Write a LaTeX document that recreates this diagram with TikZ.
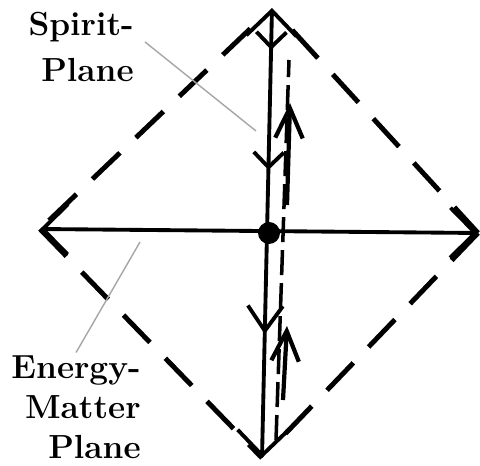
\documentclass[tikz,border=0pt]{standalone}
\usetikzlibrary{arrows.meta,decorations.markings}

\tikzset{
  bigbarb/.tip={Straight Barb[length=5mm,width=10mm]},
  upbarb/.tip={Straight Barb[length=6mm,width=5.5mm]},
  midbarb/.tip={Straight Barb[length=3mm,width=6mm]},
  axisline/.style={line width=2.2pt, bigbarb-bigbarb},
  rimdash/.style={line width=2.8pt, dash pattern=on 7.6mm off 4.4mm},
  flowdash/.style={line width=2pt, dash pattern=on 5mm off 1.6mm},
  upshaft/.style={line width=2.4pt, -upbarb},
  leader/.style={gray!70, line width=0.8pt},
  lbl/.style={font=\bfseries\fontsize{19}{23}\selectfont, align=right, inner sep=0pt, anchor=north east}
}

\begin{document}
\begin{tikzpicture}[x=0.2mm,y=-0.2mm]
\useasboundingbox (0,0) rectangle (480,466);
% corners of the diamond
\coordinate (T) at (272,8);
\coordinate (B) at (262,458);
\coordinate (L) at (40,229);
\coordinate (R) at (478,233);
\coordinate (O) at (269,233);
% dashed rim
\draw[rimdash, shorten <=6mm] (T) -- (L);
\draw[rimdash, shorten <=6mm] (T) -- (R);
\draw[rimdash] (L) -- (B);
\draw[rimdash, shorten >=4mm] (R) -- (B);
% energy-matter plane
\draw[axisline] (L) -- (R);
% spirit plane, downward flow
\draw[axisline, postaction={decorate}, decoration={markings,
    mark=at position 0.093 with {\arrow{midbarb}},
    mark=at position 0.36 with {\arrow{midbarb}},
    mark=at position 0.725 with {\arrow{Straight Barb[length=5mm,width=7mm]}}}]
  (T) -- (B);
\fill (O) circle (11);
% upward flow
\coordinate (s1) at (289,60);
\coordinate (s2) at (276,440);
\coordinate (a1t) at (290,103);
\coordinate (a1b) at (287,205);
\coordinate (a2t) at (287,326);
\coordinate (a2b) at (283,400);
\draw[flowdash] (s2) -- (s1);
\draw[upshaft] (a1b) -- (a1t);
\draw[upshaft] (a2b) -- (a2t);
% labels
\node[lbl, font=\bfseries\fontsize{19}{26}\selectfont] (spirit) at (134,12) {Spirit-\\Plane};
\node[lbl] (energy) at (141,355) {Energy-\\Matter\\Plane};
\coordinate (spiritend) at (256,131);
\coordinate (energyend) at (140,242);
\draw[leader] ([xshift=2.2mm,yshift=1mm]spirit.east) -- (spiritend);
\draw[leader] ([yshift=0.5mm]energy.north) -- (energyend);
\end{tikzpicture}
\end{document}
